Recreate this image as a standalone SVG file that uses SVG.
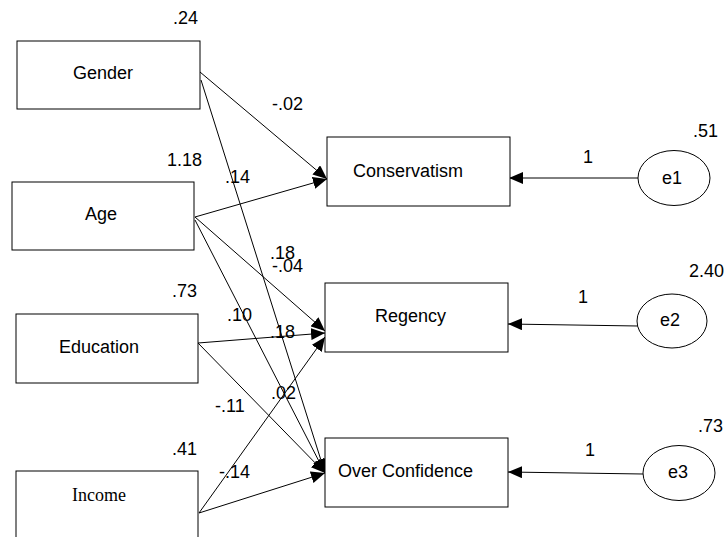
<svg xmlns="http://www.w3.org/2000/svg" width="725" height="537" viewBox="0 0 725 537">
<style>
.box{fill:#fff;stroke:#000;stroke-width:1}
.ell{fill:#fff;stroke:#000;stroke-width:1}
.t{font-family:"Liberation Sans",Arial,sans-serif;font-size:18px;fill:#000}
.s{font-family:"Liberation Serif","Times New Roman",serif;font-size:18px;fill:#000}
.c line{stroke:#000;stroke-width:1;marker-end:url(#ah)}
</style>
<defs>
<marker id="ah" viewBox="0 0 14 12" refX="14" refY="6" markerWidth="14" markerHeight="12" markerUnits="userSpaceOnUse" orient="auto">
<path d="M0,0 L14,6 L0,12 z" fill="#000"/>
</marker>
</defs>
<rect width="725" height="537" fill="#fff"/>
<g id="connectors" class="c">
<line x1="200" y1="72" x2="327" y2="179"/>
<line x1="201" y1="80" x2="325" y2="473"/>
<line x1="195" y1="217" x2="327" y2="179"/>
<line x1="195" y1="217" x2="325" y2="331"/>
<line x1="195" y1="220" x2="325" y2="473"/>
<line x1="198" y1="343" x2="325" y2="333"/>
<line x1="198" y1="343" x2="325" y2="473"/>
<line x1="199" y1="513" x2="325" y2="337"/>
<line x1="199" y1="513" x2="325" y2="473"/>
<line x1="638" y1="178" x2="509" y2="178"/>
<line x1="638" y1="326" x2="508" y2="324"/>
<line x1="643" y1="474" x2="508" y2="472"/>
</g>
<g id="gender"><rect class="box" x="17" y="41" width="183" height="68"/><text class="t" x="73" y="79">Gender</text><text class="t" x="173" y="24">.24</text></g>
<g id="age"><rect class="box" x="12" y="182" width="182" height="68"/><text class="t" x="85" y="220">Age</text><text class="t" x="167" y="166">1.18</text></g>
<g id="education"><rect class="box" x="16" y="314" width="182" height="69"/><text class="t" x="59" y="353">Education</text><text class="t" x="172" y="297">.73</text></g>
<g id="income"><rect class="box" x="16" y="471" width="182" height="80"/><text class="s" x="72" y="501">Income</text><text class="t" x="172" y="455">.41</text></g>
<g id="conservatism"><rect class="box" x="327" y="137" width="183" height="69"/><text class="t" x="353" y="177">Conservatism</text></g>
<g id="regency"><rect class="box" x="325" y="283" width="183" height="69"/><text class="t" x="375" y="322">Regency</text></g>
<g id="overconfidence"><rect class="box" x="325" y="438" width="183" height="69"/><text class="t" x="338" y="477">Over Confidence</text></g>
<g id="e1"><ellipse class="ell" cx="674" cy="178" rx="36" ry="27.5"/><text class="t" x="662" y="184">e1</text><text class="t" x="693" y="137">.51</text></g>
<g id="e2"><ellipse class="ell" cx="672" cy="321" rx="35" ry="27"/><text class="t" x="660" y="326">e2</text><text class="t" x="689" y="277">2.40</text></g>
<g id="e3"><ellipse class="ell" cx="679" cy="473" rx="36" ry="27.5"/><text class="t" x="668" y="478">e3</text><text class="t" x="698" y="432">.73</text></g>
<g id="labels">
<text class="t" x="583" y="163">1</text>
<text class="t" x="578" y="303">1</text>
<text class="t" x="585" y="456">1</text>
<text class="t" x="272" y="110">-.02</text>
<text class="t" x="225" y="183">.14</text>
<text class="t" x="270" y="259">.18</text>
<text class="t" x="272" y="272">-.04</text>
<text class="t" x="227" y="321">.10</text>
<text class="t" x="270" y="338">.18</text>
<text class="t" x="271" y="399">.02</text>
<text class="t" x="215" y="412">-.11</text>
<text class="t" x="219" y="478">-.14</text>
</g>
</svg>
